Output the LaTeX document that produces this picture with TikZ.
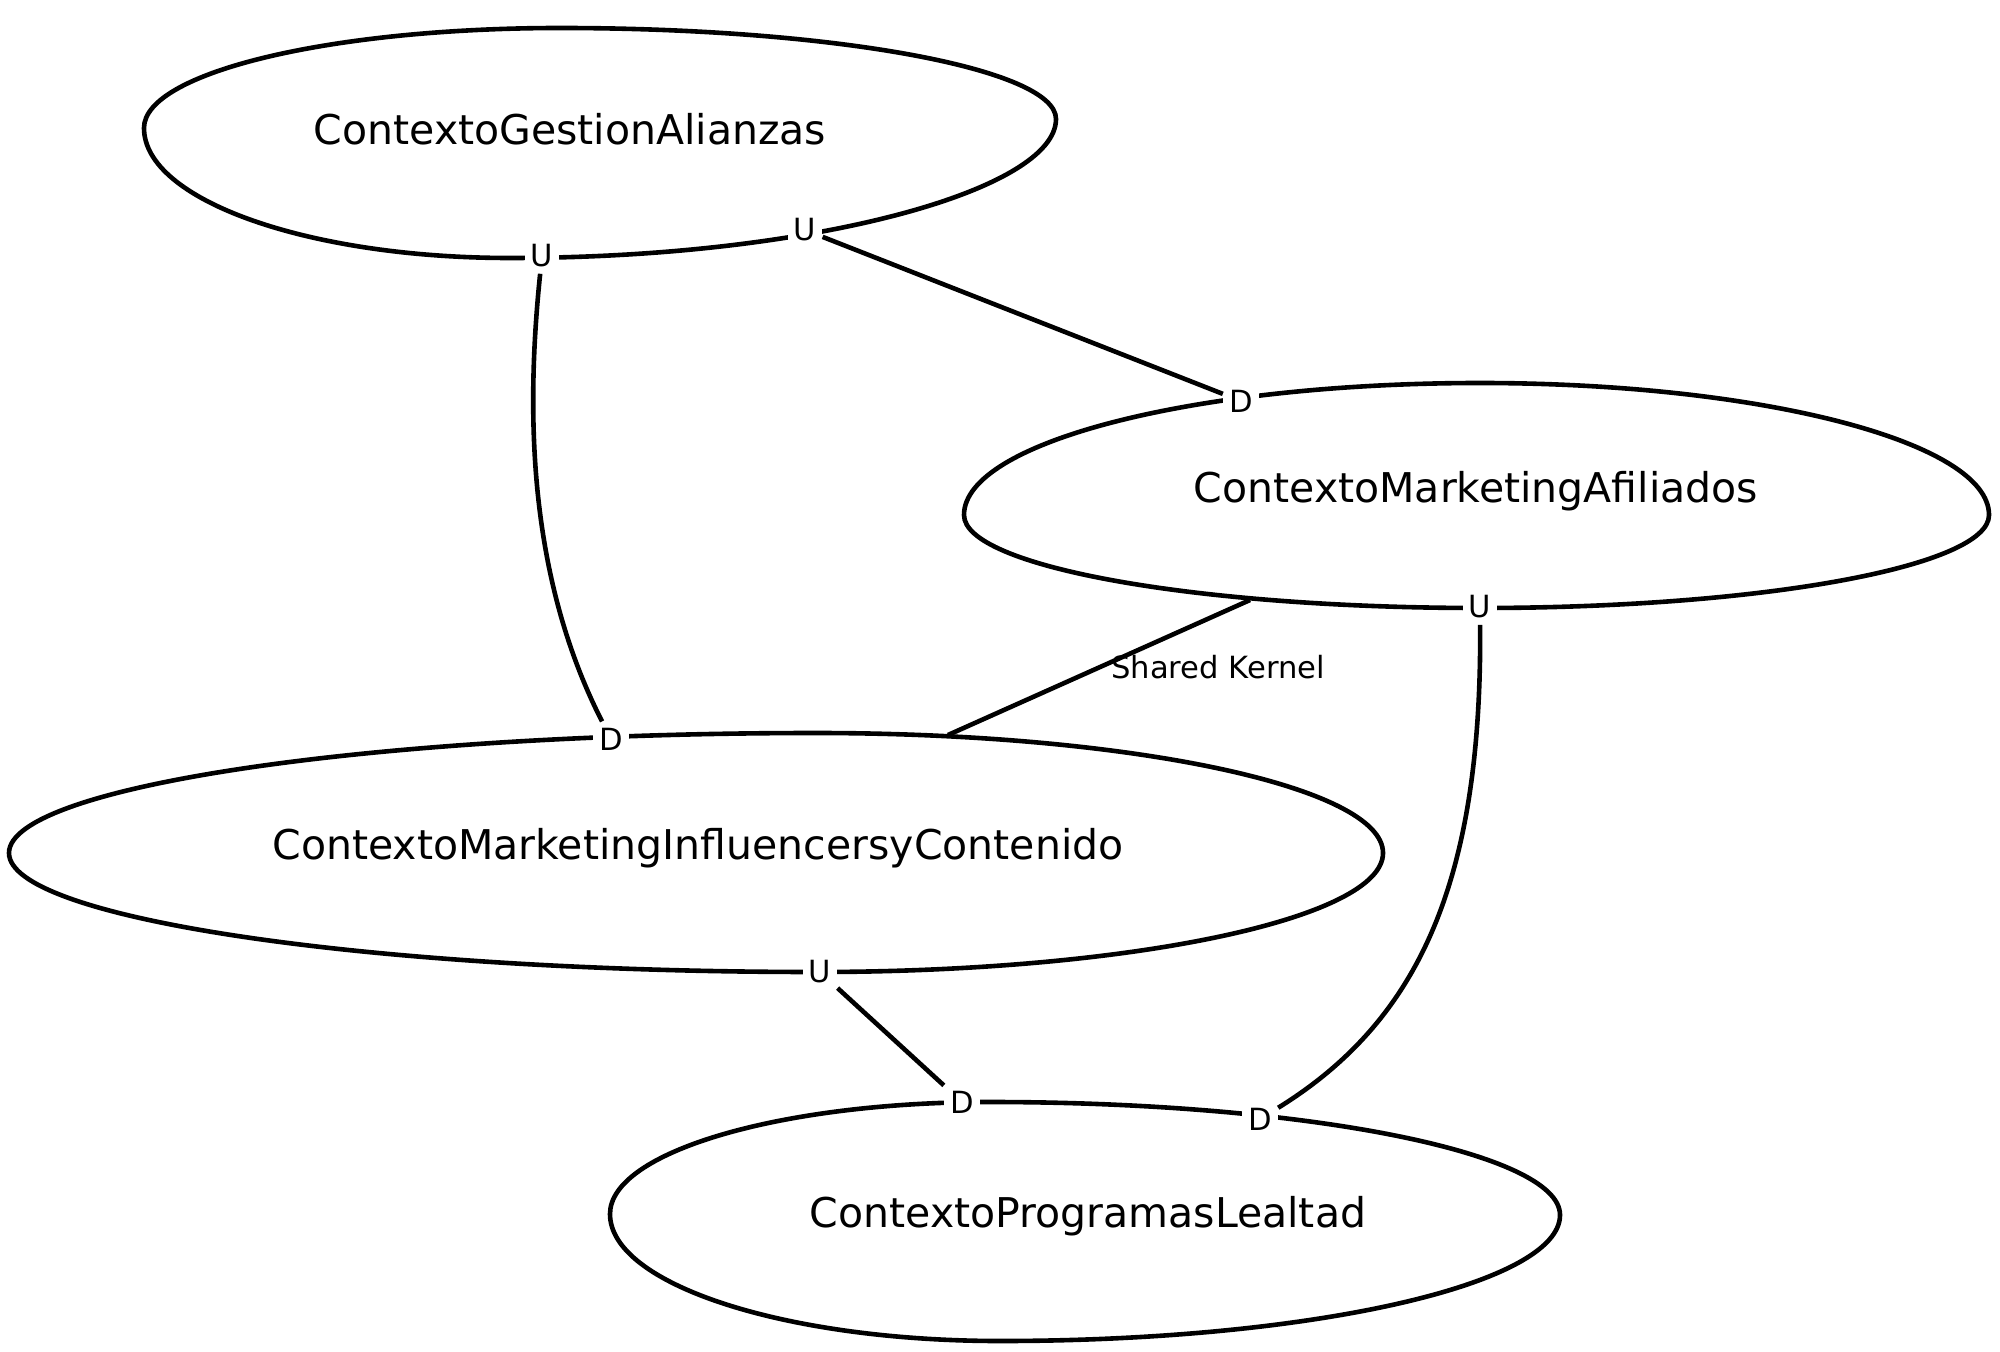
\documentclass[tikz,border=0pt]{standalone}
\usepackage{fontspec}
\setmainfont{DejaVu Sans}
\begin{document}
\begin{tikzpicture}[x=0.5pt,y=-0.5pt,
  ctxborder/.style={line width=2.3pt},
  conn/.style={line width=2.3pt},
  ctxtext/.style={font=\fontsize{20.5}{24}\selectfont, inner sep=0pt},
  rel/.style={fill=white, inner sep=3pt, font=\fontsize{15.3}{18}\selectfont},
  edgelabel/.style={inner sep=0pt, font=\fontsize{15.3}{18}\selectfont}]
\useasboundingbox (0,0) rectangle (2000,1352);

% context borders (egg-shaped ellipses)
\draw[ctxborder] (144,128) .. controls (144,72.8) and (330,28) .. (560,28)
  .. controls (834,28) and (1056,69) .. (1056,119)
  .. controls (1056,190) and (812,258) .. (510,258)
  .. controls (308,258) and (144,200) .. (144,128) -- cycle;
\draw[ctxborder] (964,515) .. controls (964,442.1) and (1195,383) .. (1480,383)
  .. controls (1761,383) and (1989,442.1) .. (1989,515)
  .. controls (1989,566.4) and (1761,608) .. (1480,608)
  .. controls (1195,608) and (964,566.4) .. (964,515) -- cycle;
\draw[ctxborder] (9,853) .. controls (9,786.7) and (370.3,733) .. (816,733)
  .. controls (1129.2,733) and (1383,786.7) .. (1383,853)
  .. controls (1383,918.7) and (1129.2,972) .. (816,972)
  .. controls (370.3,972) and (9,918.7) .. (9,853) -- cycle;
\draw[ctxborder] (610,1214) .. controls (610,1152.1) and (780.1,1102) .. (990,1102)
  .. controls (1304.8,1102) and (1560,1152.6) .. (1560,1215)
  .. controls (1560,1284.6) and (1309.3,1341) .. (1000,1341)
  .. controls (784.6,1341) and (610,1284.1) .. (610,1214) -- cycle;

% context names
\node[ctxtext] (gestion) at (570,129) {ContextoGestionAlianzas};
\node[ctxtext] (afiliados) at (1476,491) {ContextoMarketingAfiliados};
\node[ctxtext] (influencers) at (698,848) {ContextoMarketingInfluencersyContenido};
\node[ctxtext] (lealtad) at (1088,1216) {ContextoProgramasLealtad};

% U / D labels
\node[rel] (gu1) at (542,256) {U};
\node[rel] (gu2) at (805,230) {U};
\node[rel] (ad) at (1241,401) {D};
\node[rel] (au) at (1480,607) {U};
\node[rel] (id) at (611,739) {D};
\node[rel] (iu) at (820,972) {U};
\node[rel] (ld1) at (962,1102) {D};
\node[rel] (ld2) at (1260,1119) {D};

\coordinate (sk1) at (1250,600);
\coordinate (sk2) at (948,735);

% connectors
\draw[conn] (gu1) .. controls (525,420) and (530,580) .. (id);
\draw[conn] (gu2) -- (ad);
\draw[conn] (sk1) -- (sk2);
\node[edgelabel] (sk) at (1218,667) {Shared Kernel};
\draw[conn] (au) .. controls (1482,880) and (1420,1020) .. (ld2);
\draw[conn] (iu) -- (ld1);
\end{tikzpicture}
\end{document}
